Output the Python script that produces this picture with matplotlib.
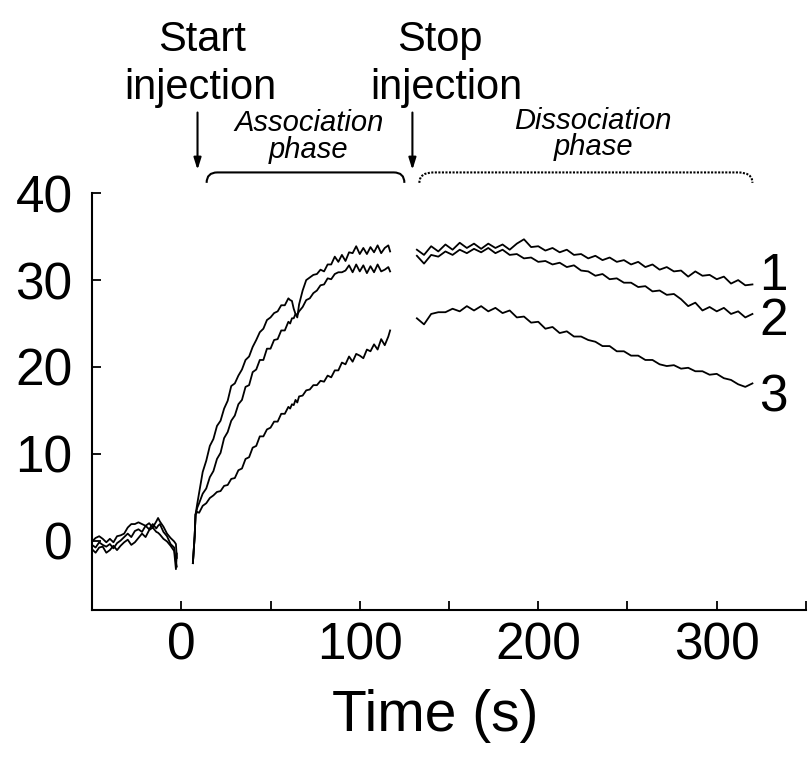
import matplotlib
matplotlib.use("Agg")
import matplotlib.pyplot as plt
from matplotlib.path import Path
from matplotlib.patches import PathPatch

plt.rcParams['font.family'] = ['Liberation Sans', 'DejaVu Sans']

# ---------------- data ----------------
base_t = [-50, -48, -46, -44, -42, -40, -38, -36, -34, -32, -30, -28, -26, -24,
          -22, -20, -18, -16, -14, -13, -12, -10, -8, -6, -4, -3, -2.5]
base_1 = [-0.1, 0.3, 0.5, 0.2, -0.2, 0.2, -0.2, 0.5, 0.6, 0.8, 1.5, 1.9, 1.9, 2.1,
          1.9, 1.7, 2.0, 1.5, 2.2, 2.6, 2.2, 1.6, 0.8, 0.3, -0.1, -0.4, -2.0]
base_2 = [-0.5, -0.8, -0.2, -0.5, -0.7, -0.4, -0.9, -0.3, 0.0, 0.4, 0.8, 0.4, 1.1, 1.3,
          1.0, 1.7, 1.3, 1.9, 1.4, 1.7, 1.9, 1.0, 0.5, -0.4, -0.8, -2.5, -3.0]
base_3 = [-1.0, -1.4, -0.8, -0.7, -1.4, -1.1, -0.6, -1.1, -0.6, -0.2, 0.1, -0.5, -0.2, 0.3,
          0.8, 0.4, 1.2, 1.5, 1.0, 0.9, 0.7, 0.2, -0.1, -0.6, -1.2, -3.3, -1.5]

assoc_t = [6.5, 7.5, 8, 9, 10, 12, 14, 16, 18, 20, 22, 24, 26, 28, 30, 32, 34, 36, 38, 40,
           42, 44, 46, 48, 50, 52, 54, 56, 58, 60, 61, 62, 63, 64, 65, 66, 68, 70, 72, 74,
           76, 78, 80, 82, 84, 86, 88, 90, 92, 94, 96, 98, 100, 102, 104, 106, 108, 110,
           112, 114, 116, 117]
assoc_1 = [-2.6, 0.5, 3.0, 4.3, 5.5, 7.9, 9.2, 10.9, 11.7, 13.2, 13.8, 15.2, 16.1, 17.8,
           18.1, 19.0, 19.7, 20.8, 21.2, 22.3, 23.1, 24.0, 24.4, 25.4, 25.7, 26.2, 26.4,
           27.1, 27.1, 27.9, 27.7, 27.6, 26.7, 26.1, 25.7, 27.2, 28.8, 30.0, 30.3, 30.6,
           30.7, 31.2, 31.0, 31.8, 31.8, 32.7, 32.1, 32.9, 32.2, 33.2, 33.1, 33.9, 33.0,
           33.7, 33.0, 33.8, 33.2, 34.0, 33.1, 33.7, 34.0, 33.3]
assoc_2 = [-2.6, 0.5, 3.0, 3.8, 4.3, 5.4, 6.0, 7.3, 8.0, 9.4, 10.1, 11.8, 12.5, 13.8,
           14.4, 15.7, 16.2, 17.7, 17.9, 19.4, 19.7, 20.8, 20.8, 22.1, 22.1, 23.1, 23.2,
           24.2, 24.2, 25.2, 25.0, 25.6, 25.6, 26.1, 26.0, 26.4, 26.9, 27.7, 27.9, 28.5,
           28.8, 29.4, 29.5, 30.2, 30.1, 30.7, 30.9, 30.9, 31.1, 31.7, 30.9, 31.8, 31.0,
           31.7, 30.8, 31.6, 30.9, 31.8, 31.0, 31.2, 31.5, 31.0]
assoc_3 = [-2.6, 0.5, 3.0, 3.3, 3.2, 4.0, 4.3, 4.9, 5.2, 5.6, 5.7, 6.3, 6.4, 7.1,
           7.2, 8.1, 8.3, 9.4, 9.6, 10.7, 10.9, 12.0, 12.0, 12.8, 13.0, 13.7, 13.7,
           14.6, 14.6, 15.4, 15.2, 15.7, 15.6, 16.2, 15.9, 16.6, 16.7, 17.3, 17.4, 17.9,
           17.9, 18.4, 18.3, 19.0, 18.8, 19.6, 19.6, 20.5, 20.3, 21.2, 20.6, 21.5, 21.3,
           21.0, 22.0, 21.8, 22.6, 22.0, 23.2, 22.5, 23.5, 24.2]

dis_t = [132, 136, 140, 144, 148, 152, 156, 160, 164, 168, 172, 176, 180, 184, 188, 192,
         196, 200, 204, 208, 212, 216, 220, 224, 228, 232, 236, 240, 244, 248, 252, 256,
         260, 264, 268, 272, 276, 280, 284, 288, 292, 296, 300, 304, 308, 312, 316, 320]
dis_1 = [33.5, 32.9, 33.9, 33.3, 34.1, 33.5, 34.3, 33.7, 34.2, 33.6, 34.2, 33.7, 34.1, 33.5,
         34.2, 34.7, 33.8, 33.9, 33.4, 33.7, 33.2, 33.5, 32.9, 33.0, 32.5, 32.8, 32.3, 32.6,
         32.1, 32.3, 31.8, 32.1, 31.5, 31.8, 31.2, 31.5, 31.0, 31.1, 30.4, 31.0, 30.5, 30.6,
         30.1, 30.4, 29.6, 30.0, 29.4, 29.5]
dis_2 = [32.8, 31.9, 32.9, 32.7, 33.3, 32.9, 33.5, 33.1, 33.6, 33.2, 33.7, 33.1, 33.5, 32.9,
         33.0, 32.5, 32.6, 32.1, 32.2, 31.8, 32.0, 31.5, 31.7, 31.1, 31.0, 30.5, 30.7, 30.1,
         30.2, 29.7, 29.7, 29.2, 29.3, 28.7, 28.8, 28.3, 28.4, 27.8, 27.0, 27.4, 26.5, 26.9,
         26.4, 26.8, 26.1, 26.4, 25.7, 26.1]
dis_3 = [25.6, 24.9, 26.1, 26.3, 26.3, 26.7, 26.4, 27.0, 26.5, 27.0, 26.4, 26.8, 26.2, 26.5,
         25.7, 25.8, 25.1, 25.2, 24.4, 24.6, 23.9, 24.1, 23.5, 23.5, 23.1, 22.9, 22.4, 22.4,
         21.8, 21.8, 21.3, 21.3, 20.8, 20.8, 20.3, 20.1, 20.2, 19.8, 19.9, 19.5, 19.5, 19.1,
         19.2, 18.7, 18.5, 18.0, 17.7, 18.1]

curve_labels = ['1', '2', '3']
curve_label_y = [30.4, 25.2, 16.4]
curve_label_x = 332

x_ticks = [-50, 0, 50, 100, 150, 200, 250, 300, 350]
x_ticklabels = ['', '0', '', '100', '', '200', '', '300', '']
y_ticks = [0, 10, 20, 30, 40]

start_inj = 9.1
stop_inj = 129.5
assoc_span = (14.2, 125.0)
dissoc_span = (133.4, 320.0)

# ---------------- figure ----------------
fig = plt.figure(figsize=(8.08, 7.63), dpi=100)
ax = fig.add_axes([0.1139, 0.2005, 0.8836, 0.5462])

lw = 1.3
for y in (base_1, base_2, base_3):
    ax.plot(base_t, y, color='black', lw=lw)
for y in (assoc_1, assoc_2, assoc_3):
    ax.plot(assoc_t, y, color='black', lw=lw)
for y in (dis_1, dis_2, dis_3):
    ax.plot(dis_t, y, color='black', lw=lw)

ax.set_xlim(-50, 350)
ax.set_ylim(-8, 40)
ax.set_xticks(x_ticks)
ax.set_xticklabels(x_ticklabels)
ax.set_yticks(y_ticks)
ax.spines['top'].set_visible(False)
ax.spines['right'].set_visible(False)
for s in ('left', 'bottom'):
    ax.spines[s].set_linewidth(1.5)
ax.tick_params(axis='both', direction='in', length=6.5, width=1.3, labelsize=37)
ax.tick_params(axis='y', pad=14)
ax.tick_params(axis='x', pad=8)

ax.set_xlabel('Time (s)', fontsize=41)
ax.xaxis.set_label_coords(0.48, -0.19)

for lab, ly in zip(curve_labels, curve_label_y):
    ax.text(curve_label_x, ly, lab, fontsize=37, ha='center', va='center')

# annotations above the plot
big = 30
ax.text(11.9, 56.4, 'Start', fontsize=big, ha='center', va='baseline', clip_on=False)
ax.text(10.8, 50.9, 'injection', fontsize=big, ha='center', va='baseline', clip_on=False)
ax.text(144.6, 56.4, 'Stop', fontsize=big, ha='center', va='baseline', clip_on=False)
ax.text(148.5, 50.9, 'injection', fontsize=big, ha='center', va='baseline', clip_on=False)

small = 21
ax.text(71.5, 44.1, 'Association\nphase', fontsize=small, style='italic', ha='center',
        va='baseline', multialignment='center', linespacing=0.92, clip_on=False)
ax.text(230.8, 44.4, 'Dissociation\nphase', fontsize=small, style='italic', ha='center',
        va='baseline', multialignment='center', linespacing=0.92, clip_on=False)

for xa in (start_inj, stop_inj):
    ax.annotate('', xy=(xa, 42.7), xytext=(xa, 49.3),
                arrowprops=dict(arrowstyle='-|>,head_length=0.7,head_width=0.22',
                                lw=1.5, color='black', shrinkA=0, shrinkB=0),
                annotation_clip=False)


def bracket(x0, x1, ytop, yend, r, **kw):
    verts = [(x0, yend), (x0, ytop), (x0 + r, ytop), (x1 - r, ytop),
             (x1, ytop), (x1, yend)]
    codes = [Path.MOVETO, Path.CURVE3, Path.CURVE3, Path.LINETO,
             Path.CURVE3, Path.CURVE3]
    p = PathPatch(Path(verts, codes), fill=False, clip_on=False, **kw)
    ax.add_patch(p)


bracket(assoc_span[0], assoc_span[1], 42.4, 41.2, 6, lw=1.5, edgecolor='black')
bracket(dissoc_span[0], dissoc_span[1], 42.4, 41.2, 8, lw=1.5, edgecolor='black',
        linestyle=(0, (1, 0.7)))

fig.savefig('out.png', dpi=100)
